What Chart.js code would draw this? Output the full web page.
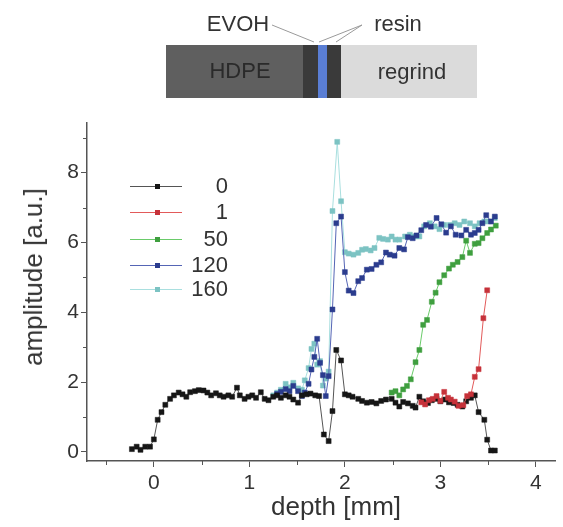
<!DOCTYPE html>
<html>
<head>
<meta charset="utf-8">
<script src="https://cdn.jsdelivr.net/npm/chart.js@4.4.0/dist/chart.umd.min.js"></script>
<style>
  html, body { margin: 0; padding: 0; background: #fff; }
  #wrap { position: relative; width: 563px; height: 527px; font-family: "Liberation Sans", Arial, sans-serif; color: #333; overflow: hidden; }
  #chart { position: absolute; left: 0; top: 0; }
  .lbl { position: absolute; transform: translate(-50%, -50%); line-height: 1; white-space: nowrap; }
  .layer { position: absolute; top: 45px; height: 53px; }
  #legend { position: absolute; left: 0; top: 0; }
  .lg-row { position: absolute; height: 0; }
  .lg-line { position: absolute; left: 130px; width: 52px; height: 1px; }
  .lg-mark { position: absolute; left: 155px; width: 5px; height: 5px; top: -2px; }
  .lg-text { position: absolute; left: 168px; width: 60px; text-align: right; font-size: 22px; line-height: 1; top: -11px; }
</style>
</head>
<body>
<div id="wrap">
  <canvas id="chart" width="563" height="527"></canvas>

  <!-- sample layer sketch -->
  <div class="layer" style="left:166px;width:137px;background:#5f5f5f"></div>
  <div class="layer" style="left:303px;width:15px;background:#3a3a3a"></div>
  <div class="layer" style="left:318px;width:9px;background:#5a7ed4"></div>
  <div class="layer" style="left:327px;width:14px;background:#3a3a3a"></div>
  <div class="layer" style="left:341px;width:136px;background:#dbdbdb"></div>
  <svg style="position:absolute;left:0;top:0" width="563" height="110">
    <line x1="272" y1="25" x2="314" y2="42" stroke="#9a9a9a" stroke-width="1"/>
    <line x1="362" y1="25" x2="319" y2="42" stroke="#9a9a9a" stroke-width="1"/>
    <line x1="362" y1="25" x2="336" y2="42" stroke="#9a9a9a" stroke-width="1"/>
  </svg>
  <div class="lbl" style="left:238px;top:24px;font-size:22px">EVOH</div>
  <div class="lbl" style="left:398px;top:24px;font-size:22px">resin</div>
  <div class="lbl" style="left:240px;top:71px;font-size:22px;color:#2a2a2a">HDPE</div>
  <div class="lbl" style="left:412px;top:72px;font-size:22px">regrind</div>

  <div class="lbl" style="left:33px;top:277px;font-size:26px;transform:translate(-50%,-50%) rotate(-90deg)">amplitude [a.u.]</div>
  <div class="lbl" style="left:336px;top:506px;font-size:26px">depth [mm]</div>

  <div id="legend"></div>
</div>

<script>
// series labels (exposure time) and styling
const seriesLabels = ['0', '1', '50', '120', '160'];
const markerColors = ['#161616', '#c6323a', '#3f9f3f', '#2b3c8e', '#7cc3c3'];
const lineColors = ['#555555', '#e25a5a', '#6acb6a', '#5565b5', '#a9dfdf'];

// series "0"
const depth0 = [-0.23, -0.18, -0.14, -0.09, -0.04, 0.00, 0.04, 0.08, 0.12, 0.17, 0.21, 0.26, 0.30, 0.34, 0.38, 0.43, 0.47, 0.52, 0.56, 0.60,
  0.65, 0.69, 0.73, 0.78, 0.82, 0.87, 0.90, 0.95, 0.99, 1.03, 1.07, 1.12, 1.16, 1.20, 1.25, 1.29, 1.33, 1.38, 1.42, 1.46,
  1.51, 1.55, 1.60, 1.64, 1.69, 1.73, 1.78, 1.83, 1.87, 1.91, 1.96, 2.00, 2.04, 2.08, 2.14, 2.18, 2.23, 2.28, 2.33, 2.38,
  2.43, 2.49, 2.53, 2.57, 2.61, 2.66, 2.71, 2.74, 2.78, 2.82, 2.87, 2.91, 2.96, 3.00, 3.05, 3.09, 3.14, 3.18, 3.23, 3.27,
  3.32, 3.36, 3.40, 3.46, 3.49, 3.53, 3.57];
const amp0 = [0.08, 0.15, 0.06, 0.15, 0.15, 0.36, 0.92, 1.14, 1.35, 1.52, 1.62, 1.70, 1.65, 1.58, 1.71, 1.74, 1.77, 1.76, 1.70, 1.62,
  1.68, 1.62, 1.58, 1.62, 1.58, 1.84, 1.62, 1.52, 1.58, 1.62, 1.55, 1.71, 1.52, 1.48, 1.58, 1.62, 1.55, 1.62, 1.58, 1.50,
  1.41, 1.62, 1.65, 1.67, 1.62, 1.60, 0.50, 0.31, 1.17, 2.92, 2.62, 1.65, 1.62, 1.58, 1.52, 1.46, 1.41, 1.43, 1.39, 1.46,
  1.50, 1.52, 1.41, 1.30, 1.43, 1.39, 1.32, 1.27, 1.58, 1.45, 1.40, 1.48, 1.52, 1.45, 1.50, 1.42, 1.40, 1.35, 1.30, 1.45,
  1.55, 1.62, 1.14, 0.92, 0.35, 0.04, 0.04];

// series "1"
const depth1 = [2.80, 2.84, 2.88, 2.92, 2.96, 3.00, 3.04, 3.08, 3.11, 3.15, 3.19, 3.24, 3.28, 3.32, 3.36, 3.40, 3.45, 3.49];
const amp1 = [1.42, 1.36, 1.48, 1.52, 1.60, 1.46, 1.72, 1.55, 1.50, 1.44, 1.32, 1.34, 1.60, 1.65, 2.15, 2.37, 3.83, 4.63];

// series "50"
const depth50 = [2.49, 2.53, 2.57, 2.61, 2.65, 2.69, 2.74, 2.78, 2.82, 2.86, 2.91, 2.95, 2.99, 3.04, 3.09, 3.13, 3.18, 3.23, 3.27, 3.31,
  3.36, 3.40, 3.44, 3.49, 3.53, 3.58];
const amp50 = [1.70, 1.74, 1.62, 1.79, 1.89, 2.08, 2.57, 2.92, 3.64, 3.78, 4.30, 4.56, 4.86, 5.06, 5.25, 5.36, 5.44, 5.58, 6.05, 5.70,
  5.96, 5.98, 6.12, 6.27, 6.37, 6.48];

// series "120"
const depth120 = [1.29, 1.33, 1.38, 1.42, 1.46, 1.51, 1.55, 1.58, 1.62, 1.65, 1.68, 1.71, 1.74, 1.77, 1.80, 1.83, 1.87, 1.91, 1.96, 2.00,
  2.04, 2.09, 2.14, 2.18, 2.23, 2.28, 2.33, 2.38, 2.43, 2.47, 2.52, 2.57, 2.62, 2.66, 2.71, 2.75, 2.80, 2.85, 2.90, 2.96,
  3.01, 3.06, 3.11, 3.16, 3.22, 3.27, 3.32, 3.36, 3.40, 3.44, 3.48, 3.53, 3.57];
const amp120 = [1.66, 1.72, 1.80, 1.74, 1.89, 1.74, 1.60, 1.70, 1.95, 2.36, 2.72, 3.24, 2.55, 2.20, 1.60, 2.17, 4.08, 6.55, 6.74, 5.15,
  4.62, 4.55, 4.89, 4.98, 5.22, 5.24, 5.36, 5.43, 5.71, 5.65, 5.62, 5.84, 5.80, 6.15, 6.12, 6.20, 6.35, 6.50, 6.45, 6.70,
  6.52, 6.28, 6.46, 6.22, 6.20, 6.36, 6.22, 6.27, 6.36, 6.55, 6.78, 6.60, 6.74];

// series "160"
const depth160 = [1.25, 1.29, 1.33, 1.38, 1.42, 1.46, 1.51, 1.55, 1.58, 1.62, 1.65, 1.68, 1.71, 1.74, 1.77, 1.80, 1.83, 1.87, 1.92, 1.96,
  2.00, 2.04, 2.09, 2.14, 2.18, 2.22, 2.27, 2.31, 2.36, 2.40, 2.45, 2.49, 2.53, 2.57, 2.63, 2.68, 2.73, 2.78, 2.83, 2.89,
  2.94, 2.99, 3.04, 3.10, 3.15, 3.20, 3.25, 3.31, 3.36, 3.41, 3.46, 3.51, 3.57];
const amp160 = [1.62, 1.70, 1.78, 1.95, 1.85, 1.98, 1.82, 1.78, 2.05, 2.40, 2.95, 3.10, 2.50, 2.60, 1.90, 2.10, 2.30, 6.90, 8.88, 7.18,
  5.72, 5.68, 5.65, 5.70, 5.79, 5.81, 5.77, 5.84, 6.13, 6.10, 6.08, 6.17, 6.08, 6.08, 6.17, 6.22, 6.17, 6.17, 6.46, 6.55,
  6.46, 6.38, 6.50, 6.50, 6.55, 6.50, 6.60, 6.55, 6.46, 6.55, 6.60, 6.60, 6.70];

// axis ticks
const xMajor = [0, 1, 2, 3, 4];
const xMinor = [-0.5, 0.5, 1.5, 2.5, 3.5];
const yMajor = [0, 2, 4, 6, 8];
const yMinor = [1, 3, 5, 7, 9];

const depths = [depth0, depth1, depth50, depth120, depth160];
const amps = [amp0, amp1, amp50, amp120, amp160];
// draw order: cyan at the back, red on top
const drawOrder = [2, 1, 4, 3, 5];

const datasets = seriesLabels.map((label, i) => ({
    label: label,
    data: depths[i].map((d, k) => ({ x: d, y: amps[i][k] })),
    showLine: true,
    borderColor: lineColors[i],
    borderWidth: 1,
    pointStyle: 'rect',
    pointRadius: 3.5,
    pointBackgroundColor: markerColors[i],
    pointBorderColor: markerColors[i],
    pointBorderWidth: 0.5,
    order: drawOrder[i]
}));

// short minor ticks drawn through the scales
const minorTicks = {
    id: 'minorTicks',
    afterDraw(chart) {
        const { ctx, chartArea } = chart;
        const x = chart.scales.x, y = chart.scales.y;
        ctx.save();
        ctx.strokeStyle = '#555';
        ctx.lineWidth = 1;
        ctx.beginPath();
        xMinor.forEach(v => {
            const px = Math.round(x.getPixelForValue(v)) + 0.5;
            ctx.moveTo(px, chartArea.bottom);
            ctx.lineTo(px, chartArea.bottom + 4);
        });
        yMinor.forEach(v => {
            const py = Math.round(y.getPixelForValue(v)) + 0.5;
            ctx.moveTo(chartArea.left, py);
            ctx.lineTo(chartArea.left - 4, py);
        });
        ctx.stroke();
        ctx.restore();
    }
};

const tickFont = { family: '"Liberation Sans", Arial, sans-serif', size: 21 };

new Chart(document.getElementById('chart').getContext('2d'), {
    type: 'scatter',
    data: { datasets: datasets },
    options: {
        responsive: false,
        devicePixelRatio: 1,
        animation: false,
        layout: { padding: { top: 123, right: 8, left: 0, bottom: 0 } },
        plugins: { legend: { display: false }, tooltip: { enabled: false } },
        scales: {
            x: {
                type: 'linear',
                min: -0.7,
                max: 4.2,
                afterBuildTicks: s => { s.ticks = xMajor.map(v => ({ value: v })); },
                afterFit: s => { s.height = 66; },
                ticks: { font: tickFont, color: '#333', padding: 4, maxRotation: 0 },
                grid: { drawOnChartArea: false, drawTicks: true, tickLength: 6, color: '#555' },
                border: { display: true, color: '#555', width: 1.5 }
            },
            y: {
                type: 'linear',
                min: -0.26,
                max: 9.42,
                afterBuildTicks: s => { s.ticks = yMajor.map(v => ({ value: v })); },
                afterFit: s => { s.width = 87; },
                ticks: { font: tickFont, color: '#333', padding: 2 },
                grid: { drawOnChartArea: false, drawTicks: true, tickLength: 6, color: '#555' },
                border: { display: true, color: '#555', width: 1.5 }
            }
        }
    },
    plugins: [minorTicks]
});

// legend: line - marker - line, right aligned label
const legend = document.getElementById('legend');
const legendRows = [186, 212, 239, 265, 289];
seriesLabels.forEach((label, i) => {
    const row = document.createElement('div');
    row.className = 'lg-row';
    row.style.top = legendRows[i] + 'px';
    row.innerHTML = `
        <div class="lg-line" style="background:${lineColors[i]}"></div>
        <div class="lg-mark" style="background:${markerColors[i]}"></div>
        <div class="lg-text">${label}</div>
    `;
    legend.appendChild(row);
});
</script>
</body>
</html>
